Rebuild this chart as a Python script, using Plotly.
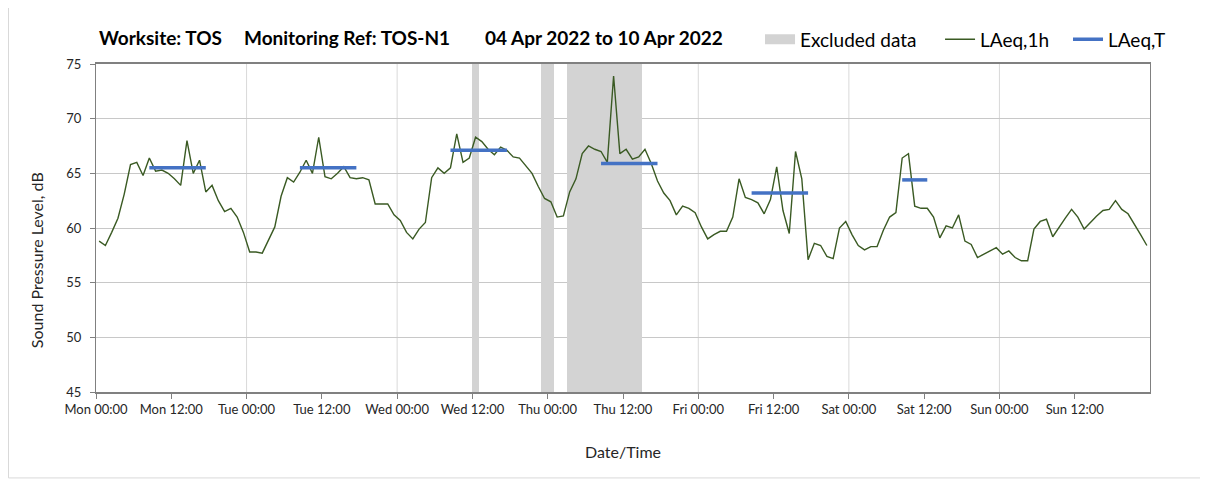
import pandas as pd
import plotly.graph_objects as go

# LAeq,1h hourly values (dB), one list per day, 00:00 -> 23:00
mon = [58.8, 58.4, 59.6, 60.9, 63.1, 65.8, 66.0, 64.8, 66.4, 65.2, 65.3, 65.0,
       64.5, 63.9, 68.0, 65.0, 66.2, 63.3, 63.9, 62.5, 61.5, 61.8, 61.0, 59.6]
tue = [57.8, 57.8, 57.7, 58.9, 60.1, 62.9, 64.6, 64.2, 65.1, 66.2, 65.0, 68.3,
       64.7, 64.5, 65.0, 65.6, 64.6, 64.5, 64.6, 64.4, 62.2, 62.2, 62.2, 61.2]
wed = [60.7, 59.6, 59.0, 59.9, 60.5, 64.6, 65.5, 65.0, 65.5, 68.6, 66.0, 66.4,
       68.3, 67.9, 67.2, 66.7, 67.4, 67.1, 66.5, 66.4, 65.7, 65.0, 63.8, 62.7]
thu = [62.4, 61.0, 61.1, 63.3, 64.5, 66.8, 67.5, 67.2, 67.0, 66.0, 73.9, 66.8,
       67.2, 66.3, 66.5, 67.2, 65.9, 64.3, 63.2, 62.5, 61.2, 62.0, 61.8, 61.4]
fri = [60.1, 59.0, 59.4, 59.7, 59.7, 61.0, 64.5, 62.8, 62.6, 62.3, 61.3, 62.6,
       65.6, 61.6, 59.5, 67.0, 64.5, 57.1, 58.6, 58.4, 57.4, 57.2, 60.0, 60.6]
sat = [59.4, 58.4, 58.0, 58.3, 58.3, 59.8, 61.0, 61.4, 66.4, 66.8, 62.0, 61.8,
       61.8, 61.0, 59.1, 60.2, 60.0, 61.2, 58.8, 58.5, 57.3, 57.6, 57.9, 58.2]
sun = [57.6, 57.9, 57.3, 57.0, 57.0, 59.9, 60.6, 60.8, 59.2, 60.1, 60.9, 61.7,
       61.0, 59.9, 60.5, 61.1, 61.6, 61.7, 62.5, 61.7, 61.3, 60.4, 59.4, 58.4]

# LAeq,T daytime periods (first hour, last hour, level)
laeqt_start = ['2022-04-04 08:00', '2022-04-05 08:00', '2022-04-06 08:00',
               '2022-04-07 08:00', '2022-04-08 08:00', '2022-04-09 08:00']
laeqt_end = ['2022-04-04 17:00', '2022-04-05 17:00', '2022-04-06 17:00',
             '2022-04-07 17:00', '2022-04-08 17:00', '2022-04-09 12:00']
laeqt_val = [65.5, 65.5, 67.1, 65.9, 63.2, 64.4]

# hours flagged as excluded
excluded = ['2022-04-06 12:00', '2022-04-06 23:00', '2022-04-07 00:00',
            '2022-04-07 03:00', '2022-04-07 04:00', '2022-04-07 05:00',
            '2022-04-07 06:00', '2022-04-07 07:00', '2022-04-07 08:00',
            '2022-04-07 09:00', '2022-04-07 10:00', '2022-04-07 11:00',
            '2022-04-07 12:00', '2022-04-07 13:00', '2022-04-07 14:00']

title_parts = ['Worksite: TOS', 'Monitoring Ref: TOS-N1', '04 Apr 2022 to 10 Apr 2022']

start = pd.Timestamp('2022-04-04 00:00')
half = pd.Timedelta(minutes=30)
levels = mon + tue + wed + thu + fri + sat + sun
times = pd.date_range(start, periods=len(levels), freq='h') + half
tick_vals = pd.date_range(start, periods=14, freq='12h')
day_lines = pd.date_range(start + pd.Timedelta(days=1), periods=6, freq='D')

FONT = 'Lato, "Open Sans", sans-serif'
GREEN = '#3a5a23'
BLUE = '#4472c4'
GREY = '#d3d3d3'

fig = go.Figure()

# excluded data bands
fig.add_trace(go.Bar(x=pd.to_datetime(excluded) + half, y=[30] * len(excluded), base=45,
                     width=3600000, marker=dict(color=GREY, line=dict(width=0)),
                     showlegend=False, hoverinfo='skip'))
fig.add_trace(go.Scatter(x=[None], y=[None], mode='lines', name='Excluded data',
                         line=dict(color=GREY, width=12), legend='legend'))

fig.add_trace(go.Scatter(x=times, y=levels, mode='lines', name='LAeq,1h',
                         line=dict(color=GREEN, width=1.4), legend='legend2'))

tx, ty = [], []
for s, e, v in zip(laeqt_start, laeqt_end, laeqt_val):
    tx += [pd.Timestamp(s) + half, pd.Timestamp(e) + half, None]
    ty += [v, v, None]
fig.add_trace(go.Scatter(x=tx, y=ty, mode='lines', name='LAeq,T',
                         line=dict(color=BLUE, width=3.5), legend='legend3'))

for d in day_lines:
    fig.add_vline(x=d, line=dict(color='#d9d9d9', width=1), layer='below')

# title pieces placed like the original header
for txt, px_x in zip(title_parts, [89, 234, 475]):
    fig.add_annotation(text='<b>' + txt + '</b>', xref='paper', yref='paper',
                       x=(px_x - 88) / 1054, y=1.082, xanchor='left', yanchor='middle',
                       showarrow=False, font=dict(size=19, color='black', family=FONT))

# y axis title, sits a little below the plot centre in the original
fig.add_annotation(text='Sound Pressure Level, dB', xref='paper', yref='paper',
                   x=(28 - 88) / 1054, y=0.402, textangle=-90, showarrow=False,
                   xanchor='center', yanchor='middle',
                   font=dict(size=16, color='#262626', family=FONT))

leg = dict(orientation='h', y=1.075, xanchor='left', yanchor='middle',
           font=dict(size=19, color='black'), bgcolor='rgba(0,0,0,0)', itemwidth=30)

fig.update_layout(
    width=1200, height=473,
    margin=dict(l=88, r=58, t=56, b=89),
    paper_bgcolor='white', plot_bgcolor='white',
    font=dict(family=FONT, color='#262626'),
    legend=dict(leg, x=0.630),
    legend2=dict(leg, x=0.8008),
    legend3=dict(leg, x=0.9222),
    bargap=0,
    showlegend=True,
)

fig.update_xaxes(
    range=[start, start + pd.Timedelta(days=7)],
    tickvals=tick_vals, tickformat='%a %H:%M',
    tickfont=dict(size=13, color='#262626'),
    ticks='outside', ticklen=5, tickcolor='#808080',
    showgrid=False, showline=True, linecolor='#808080', linewidth=1.5, mirror=True,
    title=dict(text='Date/Time', font=dict(size=16, color='#262626'), standoff=30),
)
fig.update_yaxes(
    range=[45, 75], dtick=5,
    tickfont=dict(size=13, color='#262626'),
    ticks='outside', ticklen=5, tickcolor='#808080', ticklabelstandoff=6,
    showgrid=True, gridcolor='#c8c8c8', gridwidth=1,
    showline=True, linecolor='#808080', linewidth=1, mirror=True,
    zeroline=False,
)

# faint chart-area border
fig.add_shape(type='rect', xref='paper', yref='paper', x0=-0.083, x1=1.0505,
              y0=-0.262, y1=1.3, line=dict(color='#d9d9d9', width=1), layer='below')

fig.write_html("out.html")
